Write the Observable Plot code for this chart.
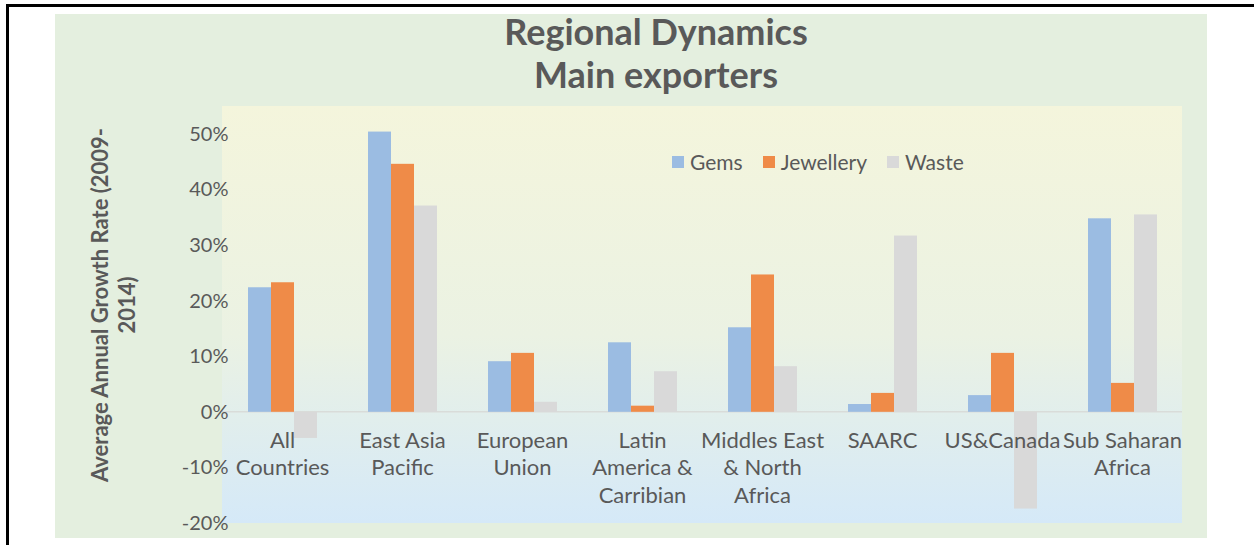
<!DOCTYPE html>
<html>
<head>
<meta charset="utf-8">
<script src="https://cdn.jsdelivr.net/npm/d3@7"></script>
<script src="https://cdn.jsdelivr.net/npm/@observablehq/plot@0.6"></script>
<style>
  html, body { margin: 0; padding: 0; background: #fff; }
  #wrap { position: relative; width: 1254px; height: 545px; overflow: hidden; font-family: Lato, "Open Sans", sans-serif; color: #595959; }
  #border { position: absolute; left: 6px; top: 4px; right: -10px; bottom: -10px; border-top: 3px solid #000; border-left: 3px solid #000; }
  #area { position: absolute; left: 55px; top: 14px; width: 1152px; height: 524px; background: #e4efdf; }
  #title { position: absolute; left: 0; width: 1312px; top: 10px; text-align: center; font-weight: bold; font-size: 36px; line-height: 43px; color: #595959; }
  #ytitle { position: absolute; left: -87px; top: 278px; width: 400px; height: 54px; text-align: center; font-weight: bold; font-size: 22px; line-height: 27px; transform: rotate(-90deg); transform-origin: 50% 50%; color: #595959; white-space: nowrap; }
  #legend { position: absolute; left: 672px; top: 149px; display: flex; gap: 20px; font-size: 21px; line-height: 26px; color: #595959; }
  #legend span.item { display: flex; align-items: center; gap: 6px; }
  #legend span.sw { display: inline-block; width: 12px; height: 12px; }
  #chart { position: absolute; left: 0; top: 0; }
</style>
</head>
<body>
<div id="wrap">
  <div id="border"></div>
  <div id="area"></div>
  <div id="chart"></div>
  <div id="title">Regional Dynamics<br>Main exporters</div>
  <div id="ytitle">Average Annual Growth Rate (2009-<br>2014)</div>
  <div id="legend"></div>
</div>
<script>
const categories = ["All\nCountries", "East Asia\nPacific", "European\nUnion", "Latin\nAmerica &\nCarribian", "Middles East\n& North\nAfrica", "SAARC", "US&Canada", "Sub Saharan\nAfrica"];
const series = ["Gems", "Jewellery", "Waste"];
const gems      = [22.4, 50.4,  9.1, 12.5, 15.2,  1.4,  3.0, 34.8];
const jewellery = [23.3, 44.6, 10.6,  1.1, 24.7,  3.4, 10.6,  5.2];
const waste     = [-4.7, 37.1,  1.8,  7.3,  8.2, 31.7, -17.4, 35.5];
const yTicks = [-20, -10, 0, 10, 20, 30, 40, 50];
const colors = ["#9bbce2", "#ef8b48", "#d9d9d9"];

const valuesBySeries = [gems, jewellery, waste];
const rows = [];
categories.forEach((c, i) => series.forEach((s, j) => rows.push({category: c, series: s, value: valuesBySeries[j][i]})));

const W = 1254, H = 545;
const plot = Plot.plot({
  width: W, height: H,
  marginLeft: 222, marginRight: 72, marginTop: 106, marginBottom: 22,
  style: {background: "transparent", fontFamily: "Lato, 'Open Sans', sans-serif", fontSize: "20px", color: "#595959", overflow: "visible"},
  facet: {data: rows, x: "category"},
  fx: {domain: categories, paddingInner: 0.417, paddingOuter: 0.2085, axis: null, label: null},
  x: {domain: series, padding: 0, axis: null},
  y: {domain: [-20, 55], ticks: yTicks, tickFormat: d => d + "%", tickSize: 0, tickPadding: 19, label: null},
  color: {domain: series, range: colors},
  marks: [
    Plot.barY(rows, {x: "series", y: "value", fill: "series"}),
    Plot.text(rows, {filter: d => d.series === "Gems", y: () => 0, text: "category", lineAnchor: "top", dy: 16, lineHeight: 1.25, fontSize: 22, fill: "#595959"})
  ]
});
document.getElementById("chart").appendChild(plot);

// plot-area gradient background and zero line, positioned from the library's scales
const svg = d3.select(plot.tagName.toLowerCase() === "svg" ? plot : plot.querySelector("svg"));
const fx = plot.scale("fx"), y = plot.scale("y");
const x0 = fx.range[0], x1 = fx.range[1];
const yTop = y.apply(55), yBot = y.apply(-20), yZero = y.apply(0);
const defs = svg.insert("defs", ":first-child");
const grad = defs.append("linearGradient").attr("id", "pa").attr("x1", 0).attr("y1", 0).attr("x2", 0).attr("y2", 1);
grad.append("stop").attr("offset", "0%").attr("stop-color", "#f4f5dc");
grad.append("stop").attr("offset", "55%").attr("stop-color", "#ebf2e3");
grad.append("stop").attr("offset", "100%").attr("stop-color", "#d5e9f8");
const bg = svg.insert("g", "defs + *");
bg.append("rect").attr("x", x0).attr("y", yTop).attr("width", x1 - x0).attr("height", yBot - yTop).attr("fill", "url(#pa)");
bg.append("line").attr("x1", x0).attr("x2", x1).attr("y1", yZero).attr("y2", yZero).attr("stroke", "#d9dcd9").attr("stroke-width", 1.5);

// legend
const leg = document.getElementById("legend");
series.forEach((s, i) => {
  const it = document.createElement("span"); it.className = "item";
  const sw = document.createElement("span"); sw.className = "sw"; sw.style.background = colors[i];
  const t = document.createElement("span"); t.textContent = s;
  it.appendChild(sw); it.appendChild(t); leg.appendChild(it);
});
</script>
</body>
</html>
